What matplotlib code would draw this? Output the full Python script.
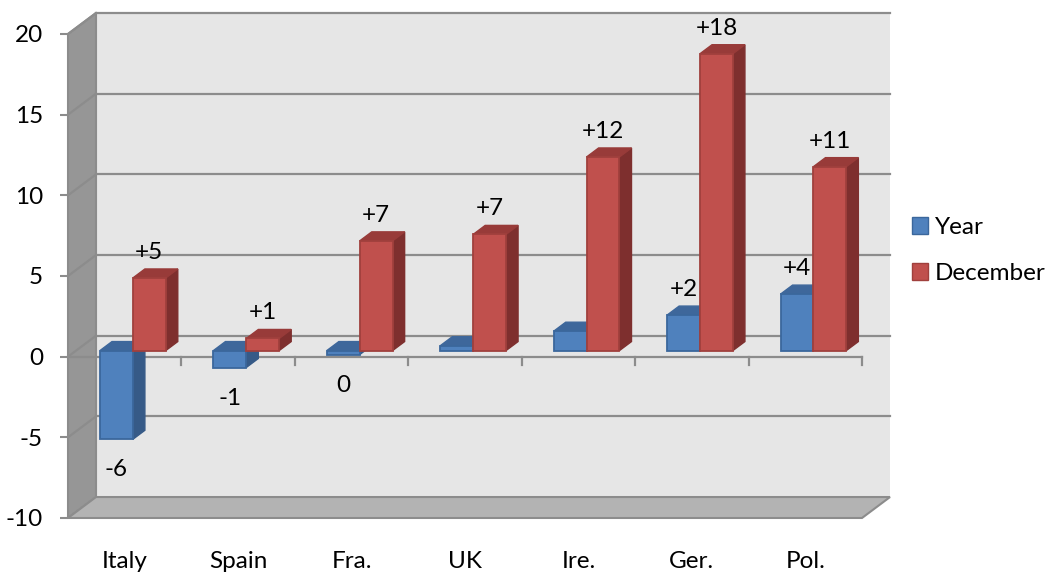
import matplotlib
matplotlib.use("Agg")
import matplotlib.pyplot as plt
from matplotlib.patches import Polygon, Patch

# dane z wykresu
categories = ['Italy', 'Spain', 'Fra.', 'UK', 'Ire.', 'Ger.', 'Pol.']
year_values = [-5.5, -1.05, -0.25, 0.3, 1.2, 2.2, 3.5]
december_values = [4.5, 0.75, 6.8, 7.2, 12.0, 18.4, 11.4]
year_labels = ['-6', '-1', '0', '', '', '+2', '+4']
december_labels = ['+5', '+1', '+7', '+7', '+12', '+18', '+11']
series_names = ['Year', 'December']
y_ticks = [-10, -5, 0, 5, 10, 15, 20]

# kolory w stylu Excela
BLUE = dict(front='#4f81bd', side='#365a87', top='#3e679b', edge='#3b679c')
RED = dict(front='#c0504d', side='#7e2f2e', top='#983b39', edge='#a0403d')
WALL = '#e6e6e6'
SIDE_WALL = '#969696'
FLOOR = '#b3b3b3'
GRID = '#8c8c8c'
FS = 17.5

# przesuniecie glebokosci (rzut ukosny) w jednostkach danych
DX = 0.247
DY = 1.30
D1, D2 = 0.29, 0.72   # przod i tyl slupka w glebokosci
BAR_W = 0.29

plt.rcParams['font.family'] = ['Lato', 'DejaVu Sans']

fig = plt.figure(figsize=(10.47, 5.74), dpi=100)
ax = fig.add_axes([68 / 1047, 56 / 574, 794 / 1047, 484 / 574])
n = len(categories)
ymin, ymax = y_ticks[0], y_ticks[-1]
ax.set_xlim(0, n)
ax.set_ylim(ymin, ymax)
ax.patch.set_visible(False)
for s in ax.spines.values():
    s.set_visible(False)


def proj(x, v, d):
    return (x + d * DX, v + d * DY)


def poly(pts, fc, ec, z, lw=1.0):
    ax.add_patch(Polygon(pts, closed=True, facecolor=fc, edgecolor=ec,
                         linewidth=lw, zorder=z, clip_on=False))


# sciany: tylna, boczna, podloga
poly([proj(0, ymin, 1), proj(n, ymin, 1), proj(n, ymax, 1), proj(0, ymax, 1)],
     WALL, 'none', 0)
poly([(0, ymin), proj(0, ymin, 1), proj(0, ymax, 1), (0, ymax)],
     SIDE_WALL, GRID, 0.5, lw=1.5)
poly([(0, ymin), (n, ymin), proj(n, ymin, 1), proj(0, ymin, 1)],
     FLOOR, GRID, 0.5, lw=1.5)

# linie siatki na tylnej i bocznej scianie
for v in y_ticks[1:]:
    x0, y0 = proj(0, v, 1)
    x1, y1 = proj(n, v, 1)
    ax.plot([x0, x1], [y0, y1], color=GRID, lw=1.6, zorder=1, clip_on=False)
    ax.plot([0, x0], [v, y0], color=GRID, lw=1.6, zorder=1, clip_on=False)

# os zero z kreskami kategorii
ax.plot([0, n], [0, 0], color=GRID, lw=1.6, zorder=2, clip_on=False)
for i in range(1, n + 1):
    ax.plot([i, i], [0, -0.5], color=GRID, lw=1.6, zorder=2, clip_on=False)


def bar3d(x_left, val, c):
    lo, hi = min(0, val), max(0, val)
    x_right = x_left + BAR_W
    # bok prawy
    poly([proj(x_right, lo, D1), proj(x_right, lo, D2),
          proj(x_right, hi, D2), proj(x_right, hi, D1)], c['side'], c['side'], 3)
    # gora
    poly([proj(x_left, hi, D1), proj(x_right, hi, D1),
          proj(x_right, hi, D2), proj(x_left, hi, D2)], c['top'], c['top'], 3)
    # przod
    poly([proj(x_left, lo, D1), proj(x_right, lo, D1),
          proj(x_right, hi, D1), proj(x_left, hi, D1)], c['front'], c['edge'], 3, lw=1.3)


def bar_label(x_left, val, txt):
    if not txt:
        return
    xc = x_left + BAR_W / 2 + D1 * DX
    if val >= 0:
        y = val + D2 * DY + 0.62
    else:
        y = val + D1 * DY - 2.3
    ax.text(xc, y, txt, ha='center', va='baseline', fontsize=FS,
            color='black', zorder=10)


for i in range(n):
    xb = i + 0.5 - BAR_W
    xr = i + 0.5
    bar3d(xb, year_values[i], BLUE)
    bar3d(xr, december_values[i], RED)
    bar_label(xb, year_values[i], year_labels[i])
    bar_label(xr, december_values[i], december_labels[i])

# osie
ax.set_yticks(y_ticks)
ax.set_yticklabels([str(t) for t in y_ticks])
ax.tick_params(axis='y', length=6, width=1.5, color=GRID, pad=12, labelsize=FS)
ax.set_xticks([i + 0.5 for i in range(n)])
ax.set_xticklabels(categories)
ax.tick_params(axis='x', length=0, pad=24, labelsize=FS)

handles = [Patch(facecolor=BLUE['front'], edgecolor=BLUE['edge'], label=series_names[0]),
           Patch(facecolor=RED['front'], edgecolor=RED['edge'], label=series_names[1])]
fig.legend(handles=handles, loc='upper left', bbox_to_anchor=(912 / 1047, 1 - 217 / 574),
           frameon=False, fontsize=FS, handlelength=0.66, handleheight=0.66,
           handletextpad=0.28, labelspacing=1.03, borderpad=0, borderaxespad=0)

fig.savefig('out.png', dpi=100)
